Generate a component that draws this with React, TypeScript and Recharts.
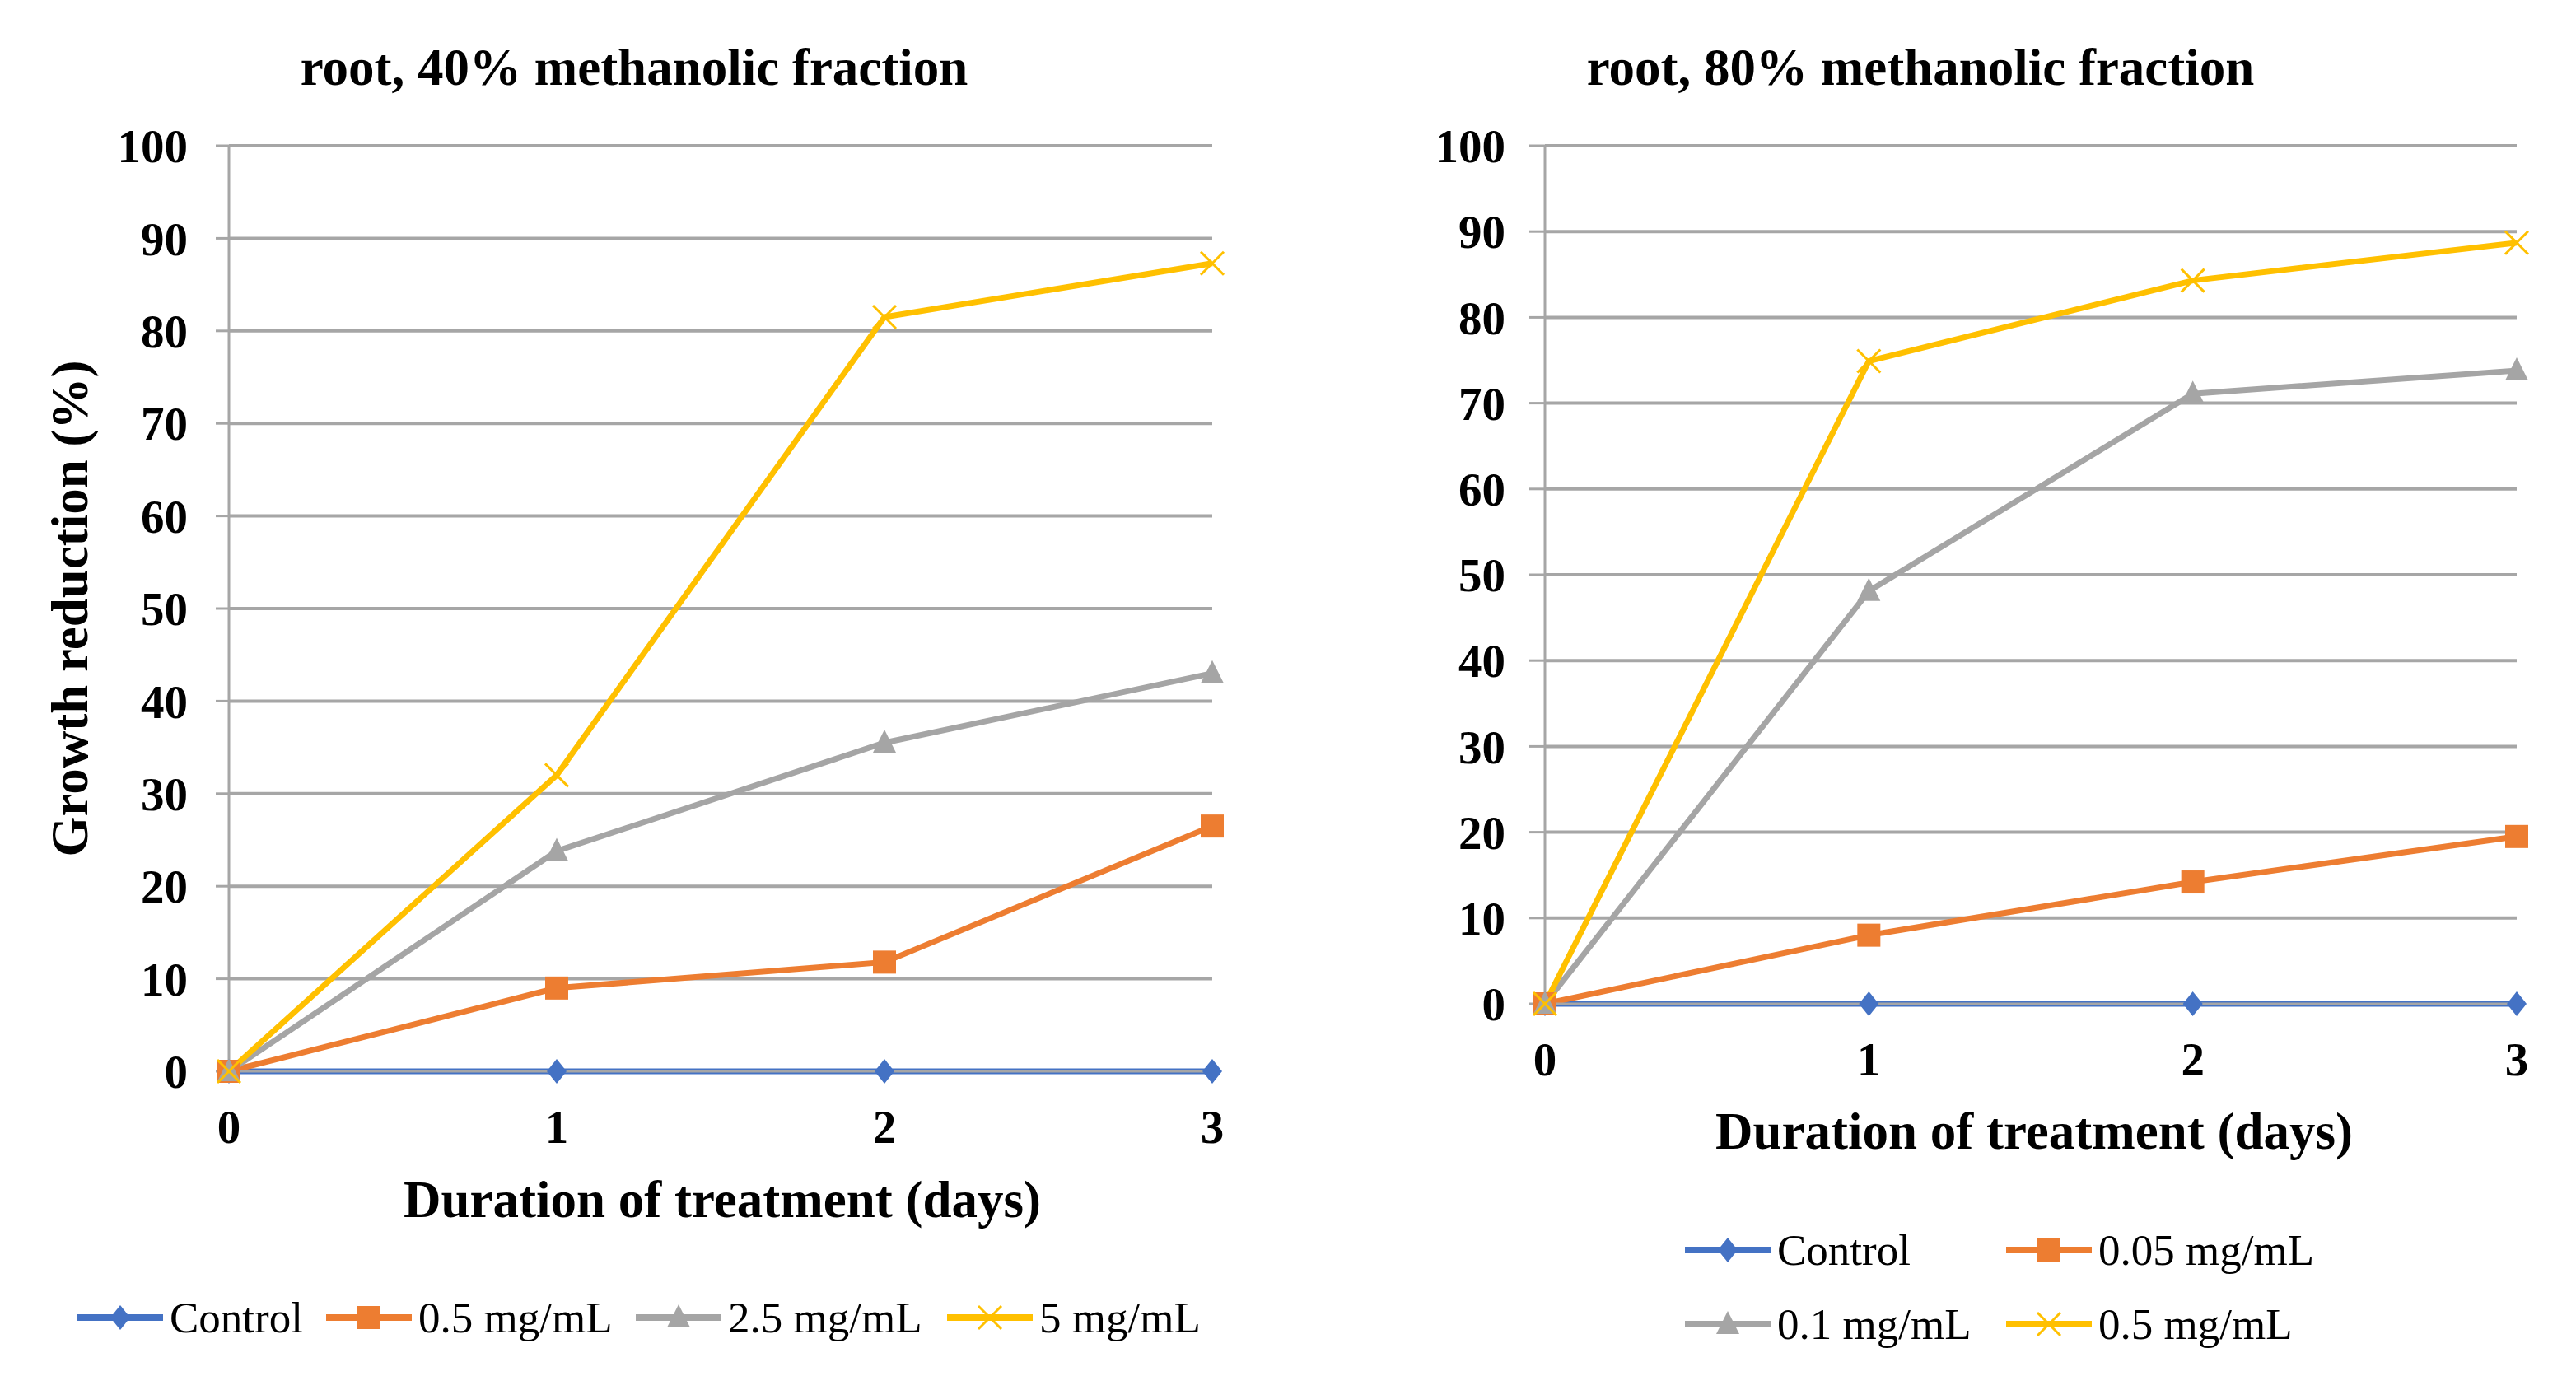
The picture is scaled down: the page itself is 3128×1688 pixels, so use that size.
import React from 'react';
import { LineChart, Line, XAxis, YAxis, CartesianGrid } from 'recharts';

// ---------- data ----------
const days = [0, 1, 2, 3];
const yTicks = [0, 10, 20, 30, 40, 50, 60, 70, 80, 90, 100];

const leftTitle = 'root, 40% methanolic fraction';
const leftNames = ['Control', '0.5 mg/mL', '2.5 mg/mL', '5 mg/mL'];
const leftControl = [0, 0, 0, 0];
const leftLow = [0, 9.0, 11.8, 26.5];
const leftMid = [0, 23.8, 35.5, 43.0];
const leftHigh = [0, 32.0, 81.5, 87.3];

const rightTitle = 'root, 80% methanolic fraction';
const rightNames = ['Control', '0.05 mg/mL', '0.1 mg/mL', '0.5 mg/mL'];
const rightControl = [0, 0, 0, 0];
const rightLow = [0, 8.0, 14.2, 19.5];
const rightMid = [0, 48.1, 71.1, 73.8];
const rightHigh = [0, 74.9, 84.3, 88.7];

const xTitle = 'Duration of treatment (days)';
const yTitle = 'Growth reduction (%)';

const colors = ['#4472C4', '#ED7D31', '#A5A5A5', '#FFC000'];
const markerKinds = ['diamond', 'square', 'triangle', 'x'];
const keys = ['s0', 's1', 's2', 's3'];

const FONT = '"Liberation Serif", "Times New Roman", serif';
const GRID = '#A6A6A6';
const TOP = 177;

function buildRows(series: number[][]) {
  return days.map((d, i) => {
    const row: any = { day: d };
    series.forEach((s, j) => {
      row[keys[j]] = s[i];
    });
    return row;
  });
}

function Marker({ kind, cx, cy, color }: { kind: string; cx: number; cy: number; color: string }) {
  if (kind === 'diamond') {
    return <path d={`M${cx},${cy - 15} L${cx + 12},${cy} L${cx},${cy + 15} L${cx - 12},${cy} Z`} fill={color} />;
  }
  if (kind === 'square') {
    return <rect x={cx - 14} y={cy - 14} width={28} height={28} fill={color} />;
  }
  if (kind === 'triangle') {
    return <path d={`M${cx},${cy - 16} L${cx + 14},${cy + 12} L${cx - 14},${cy + 12} Z`} fill={color} />;
  }
  return (
    <g stroke={color} strokeWidth={3}>
      <line x1={cx - 14} y1={cy - 14} x2={cx + 14} y2={cy + 14} />
      <line x1={cx - 14} y1={cy + 14} x2={cx + 14} y2={cy - 14} />
    </g>
  );
}

type PanelProps = {
  left: number;
  width: number;
  yAxisWidth: number;
  rightMargin: number;
  plotBottom: number;
  yTickSize: number;
  yTickMargin: number;
  series: number[][];
  names: string[];
};

function Panel(p: PanelProps) {
  const height = 1688;
  const rows = buildRows(p.series);
  return (
    <div style={{ position: 'absolute', left: p.left, top: 0, width: p.width, height }}>
      <LineChart
        width={p.width}
        height={height}
        data={rows}
        margin={{ top: TOP, right: p.rightMargin, left: 0, bottom: 0 }}
      >
        <CartesianGrid vertical={false} stroke={GRID} strokeWidth={4} />
        <XAxis
          dataKey="day"
          type="number"
          domain={[0, 3]}
          ticks={days}
          height={height - p.plotBottom}
          axisLine={{ stroke: GRID, strokeWidth: 3 }}
          tickLine={false}
          tickSize={0}
          tickMargin={47}
          tick={{ fontFamily: FONT, fontWeight: 700, fontSize: 57, fill: '#000' }}
          interval={0}
        />
        <YAxis
          type="number"
          domain={[0, 100]}
          ticks={yTicks}
          width={p.yAxisWidth}
          axisLine={{ stroke: GRID, strokeWidth: 3 }}
          tickLine={{ stroke: GRID, strokeWidth: 3 }}
          tickSize={p.yTickSize}
          tickMargin={p.yTickMargin}
          tick={{ fontFamily: FONT, fontWeight: 700, fontSize: 57, fill: '#000' }}
          interval={0}
        />
        {keys.map((k, j) => (
          <Line
            key={k}
            type="linear"
            dataKey={k}
            name={p.names[j]}
            stroke={colors[j]}
            strokeWidth={7}
            isAnimationActive={false}
            dot={(dp: any) => (
              <Marker
                key={`${k}-${dp.index}`}
                kind={markerKinds[j]}
                cx={dp.cx}
                cy={dp.cy}
                color={colors[j]}
              />
            )}
            activeDot={false}
          />
        ))}
      </LineChart>
    </div>
  );
}

function LegendItem({ x, y, j, label }: { x: number; y: number; j: number; label: string }) {
  return (
    <g>
      <line x1={x} y1={y} x2={x + 104} y2={y} stroke={colors[j]} strokeWidth={8} />
      <Marker kind={markerKinds[j]} cx={x + 52} cy={y} color={colors[j]} />
      <text x={x + 112} y={y + 18} fontFamily={FONT} fontSize={53} fill="#000">
        {label}
      </text>
    </g>
  );
}

const leftLegendX = [94, 396, 772, 1150];
const rightLegendPos = [
  [2046, 1518],
  [2436, 1518],
  [2046, 1608],
  [2436, 1608],
];

export default function App() {
  return (
    <div style={{ position: 'absolute', left: 0, top: 0, width: 3128, height: 1688, background: '#fff', overflow: 'hidden' }}>
      <Panel
        left={0}
        width={1560}
        yAxisWidth={278}
        rightMargin={88}
        plotBottom={1301}
        yTickSize={16}
        yTickMargin={34}
        series={[leftControl, leftLow, leftMid, leftHigh]}
        names={leftNames}
      />
      <Panel
        left={1564}
        width={1564}
        yAxisWidth={312}
        rightMargin={72}
        plotBottom={1219}
        yTickSize={19}
        yTickMargin={29}
        series={[rightControl, rightLow, rightMid, rightHigh]}
        names={rightNames}
      />
      <svg width={3128} height={1688} style={{ position: 'absolute', left: 0, top: 0, pointerEvents: 'none' }}>
        <text x={770} y={103} textAnchor="middle" fontFamily={FONT} fontWeight={700} fontSize={63} fill="#000">
          {leftTitle}
        </text>
        <text x={2332} y={103} textAnchor="middle" fontFamily={FONT} fontWeight={700} fontSize={63} fill="#000">
          {rightTitle}
        </text>
        <text x={877} y={1478} textAnchor="middle" fontFamily={FONT} fontWeight={700} fontSize={63} fill="#000">
          {xTitle}
        </text>
        <text x={2470} y={1395} textAnchor="middle" fontFamily={FONT} fontWeight={700} fontSize={63} fill="#000">
          {xTitle}
        </text>
        <text
          x={0}
          y={0}
          transform={`translate(106, 739) rotate(-90)`}
          textAnchor="middle"
          fontFamily={FONT}
          fontWeight={700}
          fontSize={63}
          fill="#000"
        >
          {yTitle}
        </text>
        {leftNames.map((n, j) => (
          <LegendItem key={`l${j}`} x={leftLegendX[j]} y={1600} j={j} label={n} />
        ))}
        {rightNames.map((n, j) => (
          <LegendItem key={`r${j}`} x={rightLegendPos[j][0]} y={rightLegendPos[j][1]} j={j} label={n} />
        ))}
      </svg>
    </div>
  );
}
